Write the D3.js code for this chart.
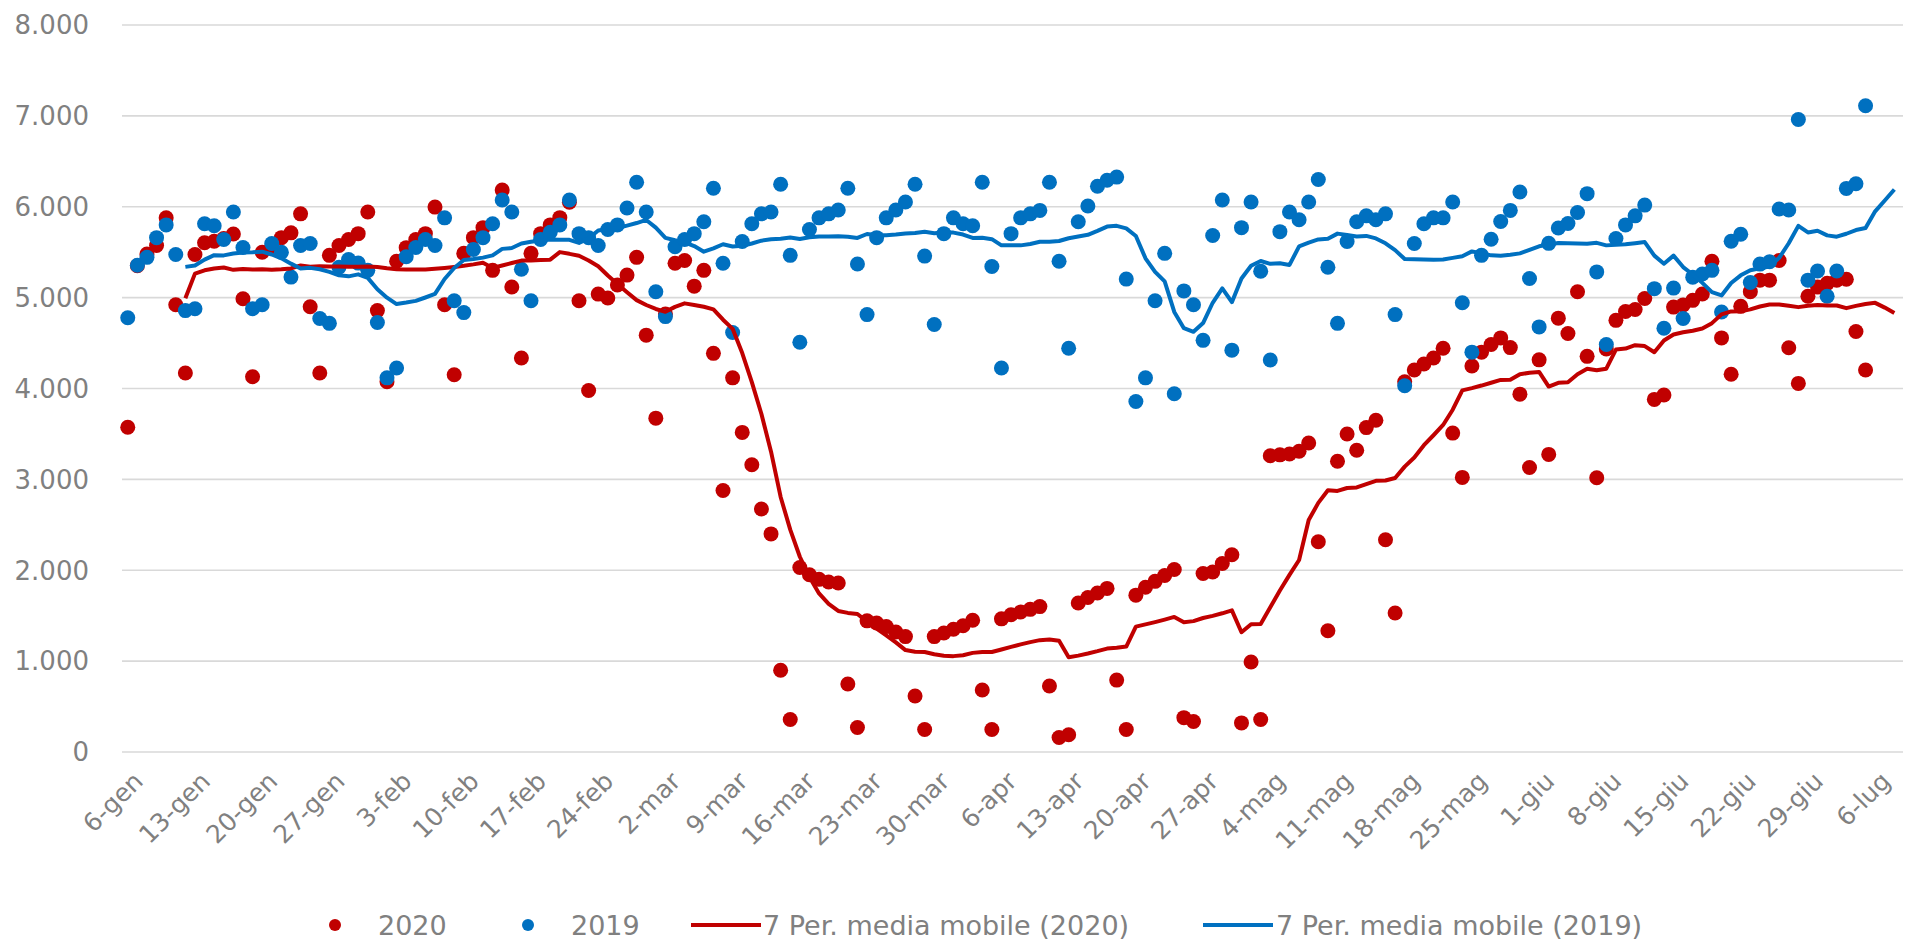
<!DOCTYPE html>
<html>
<head>
<meta charset="utf-8">
<script src="https://cdn.jsdelivr.net/npm/d3@7"></script>
<style>
  html, body { margin: 0; padding: 0; background: #ffffff; }
  svg { display: block; font-family: "DejaVu Sans", sans-serif; }
</style>
</head>
<body>
<svg id="chart" width="1910" height="950"></svg>
<script>
// Daily values, one per day from 6 January (index 0) to 5 July (index 181)
const values2020 = [
  3574, 5350, 5480, 5574, 5878, 4922, 4170,
  5474, 5604, 5620, 5650, 5700, 4987, 4130,
  5500, 5560, 5660, 5713, 5922, 4900, 4170,
  5465, 5574, 5640, 5704, 5943, 4857, 4074,
  5400, 5550, 5640, 5704, 5996, 4922, 4152,
  5487, 5660, 5770, 5300, 6183, 5117, 4335,
  5487, 5704, 5800, 5880, 6050, 4965, 3978,
  5039, 4996, 5139, 5248, 5443, 4587, 3674,
  4820, 5378, 5409, 5126, 5300, 4387, 2878,
  4117, 3517, 3161, 2674, 2400, 900, 357,
  2030, 1950, 1900, 1870, 1860, 748, 270,
  1443, 1420, 1380, 1320, 1270, 617, 248,
  1270, 1310, 1350, 1390, 1450, 683, 248,
  1465, 1510, 1540, 1570, 1600, 726, 160,
  190, 1640, 1700, 1750, 1800, 791, 248,
  1726, 1813, 1878, 1943, 2009, 378, 335,
  1965, 1980, 2074, 2170, 320, 990, 357,
  3260, 3270, 3280, 3310, 3400, 2313, 1335,
  3200, 3500, 3320, 3570, 3650, 2335, 1530,
  4074, 4204, 4270, 4335, 4443, 3509, 3022,
  4248, 4400, 4484, 4557, 4450, 3938, 3130,
  4315, 3275, 4774, 4605, 5065, 4354, 3018,
  4436, 4750, 4847, 4870, 4990, 3880, 3928,
  4896, 4920, 4970, 5040, 5400, 4557, 4157,
  4904, 5066, 5192, 5192, 5409, 4449, 4056,
  5015, 5116, 5157, 5192, 5202, 4627, 4204
];

const values2019 = [
  4778, 5357, 5443, 5660, 5800, 5474, 4857,
  4878, 5813, 5791, 5639, 5943, 5552, 4878,
  4922, 5596, 5500, 5226, 5574, 5596, 4770,
  4717, 5335, 5420, 5380, 5300, 4726, 4117,
  4226, 5450, 5552, 5639, 5574, 5878, 4965,
  4835, 5530, 5660, 5813, 6074, 5943, 5313,
  4965, 5640, 5720, 5800, 6074, 5704, 5660,
  5574, 5750, 5800, 5987, 6270, 5943, 5065,
  4791, 5560, 5639, 5704, 5835, 6204, 5378,
  4617, 5617, 5813, 5922, 5943, 6248, 5465,
  4509, 5750, 5878, 5922, 5965, 6204, 5370,
  4813, 5660, 5878, 5965, 6052, 6248, 5457,
  4704, 5704, 5878, 5813, 5791, 6270, 5343,
  4226, 5704, 5878, 5922, 5960, 6270, 5400,
  4443, 5835, 6009, 6226, 6291, 6326, 5204,
  3857, 4117, 4965, 5487, 3943, 5074, 4922,
  4530, 5683, 6074, 4422, 5770, 6052, 5291,
  4313, 5726, 5943, 5857, 6052, 6300, 5335,
  4717, 5617, 5835, 5900, 5857, 5922, 4813,
  4030, 5596, 5813, 5878, 5878, 6052, 4943,
  4400, 5465, 5642, 5837, 5960, 6163, 5210,
  4678, 5597, 5766, 5815, 5936, 6144, 5283,
  4484, 5650, 5800, 5900, 6018, 5099, 4663,
  5105, 4770, 5225, 5260, 5300, 4842, 5621,
  5697, 5167, 5369, 5394, 5975, 5965, 6960,
  5192, 5293, 5015, 5293, 6202, 6253, 7111
];

// 6-8 July: these days enter the moving averages but carry no markers
const late2020 = [5100, 4750, 4735];
const late2019 = [6480, 6130, 5860];

// Weekly category labels (every 7th day, starting at index 0)
const tickLabels = [
  "6-gen", "13-gen", "20-gen", "27-gen", "3-feb", "10-feb", "17-feb", "24-feb",
  "2-mar", "9-mar", "16-mar", "23-mar", "30-mar", "6-apr", "13-apr", "20-apr",
  "27-apr", "4-mag", "11-mag", "18-mag", "25-mag", "1-giu", "8-giu", "15-giu",
  "22-giu", "29-giu", "6-lug"
];
const tickStep = 7;

const yTicks = [0, 1000, 2000, 3000, 4000, 5000, 6000, 7000, 8000];

const seriesNames = ["2020", "2019", "7 Per. media mobile (2020)", "7 Per. media mobile (2019)"];
const maPeriod = 7;

const RED = "#c00000";
const BLUE = "#0070c0";
const TEXT = "#808080";
const GRID = "#d9d9d9";

const itLocale = d3.formatLocale({ decimal: ",", thousands: ".", grouping: [3], currency: ["€", ""] });
const fmt = itLocale.format(",");

const svg = d3.select("#chart");

const x = d3.scaleLinear().domain([-0.6, 184.9]).range([122, 1903]);
const y = d3.scaleLinear().domain([0, 8000]).range([752, 25]);

// Horizontal gridlines
svg.append("g")
  .selectAll("line")
  .data(yTicks)
  .join("line")
  .attr("x1", x.range()[0])
  .attr("x2", x.range()[1])
  .attr("y1", d => y(d))
  .attr("y2", d => y(d))
  .attr("stroke", GRID)
  .attr("stroke-width", 1.6);

// Value axis labels
svg.append("g")
  .selectAll("text")
  .data(yTicks)
  .join("text")
  .attr("x", 89)
  .attr("y", d => y(d))
  .attr("dy", "0.36em")
  .attr("text-anchor", "end")
  .attr("font-size", 26)
  .attr("fill", TEXT)
  .text(d => fmt(d));

// Category labels, rotated
svg.append("g")
  .selectAll("text")
  .data(tickLabels)
  .join("text")
  .attr("transform", (d, i) => `translate(${x(i * tickStep) + 4},${770}) rotate(-45)`)
  .attr("dy", "0.72em")
  .attr("text-anchor", "end")
  .attr("font-size", 25)
  .attr("fill", TEXT)
  .text(d => d);

// Trailing moving average over the daily values
function movingAverage(values, n) {
  const out = [];
  for (let i = n - 1; i < values.length; i++) {
    out.push({ i, v: d3.mean(values.slice(i - n + 1, i + 1)) });
  }
  return out;
}

const r = 7.5;
svg.append("g")
  .selectAll("circle")
  .data(values2020)
  .join("circle")
  .attr("cx", (d, i) => x(i))
  .attr("cy", d => y(d))
  .attr("r", r)
  .attr("fill", RED);

svg.append("g")
  .selectAll("circle")
  .data(values2019)
  .join("circle")
  .attr("cx", (d, i) => x(i))
  .attr("cy", d => y(d))
  .attr("r", r)
  .attr("fill", BLUE);

const line = d3.line().x(d => x(d.i)).y(d => y(d.v));

svg.append("path")
  .datum(movingAverage(values2020.concat(late2020), maPeriod))
  .attr("d", line)
  .attr("fill", "none")
  .attr("stroke", RED)
  .attr("stroke-width", 4)
  .attr("stroke-linejoin", "round");

svg.append("path")
  .datum(movingAverage(values2019.concat(late2019), maPeriod))
  .attr("d", line)
  .attr("fill", "none")
  .attr("stroke", BLUE)
  .attr("stroke-width", 4)
  .attr("stroke-linejoin", "round");

// Legend
const legendY = 925;
const legend = svg.append("g").attr("font-size", 27).attr("fill", TEXT);
const legendItems = [
  { name: seriesNames[0], kind: "dot", color: RED, mx: 335, tx: 378 },
  { name: seriesNames[1], kind: "dot", color: BLUE, mx: 528, tx: 571 },
  { name: seriesNames[2], kind: "line", color: RED, mx: 691, tx: 763 },
  { name: seriesNames[3], kind: "line", color: BLUE, mx: 1203, tx: 1276 }
];
legendItems.forEach(it => {
  if (it.kind === "dot") {
    legend.append("circle").attr("cx", it.mx).attr("cy", legendY).attr("r", 6).attr("fill", it.color);
  } else {
    legend.append("line")
      .attr("x1", it.mx).attr("x2", it.mx + 70)
      .attr("y1", legendY).attr("y2", legendY)
      .attr("stroke", it.color).attr("stroke-width", 4);
  }
  legend.append("text")
    .attr("x", it.tx)
    .attr("y", legendY)
    .attr("dy", "0.36em")
    .text(it.name);
});
</script>
</body>
</html>
